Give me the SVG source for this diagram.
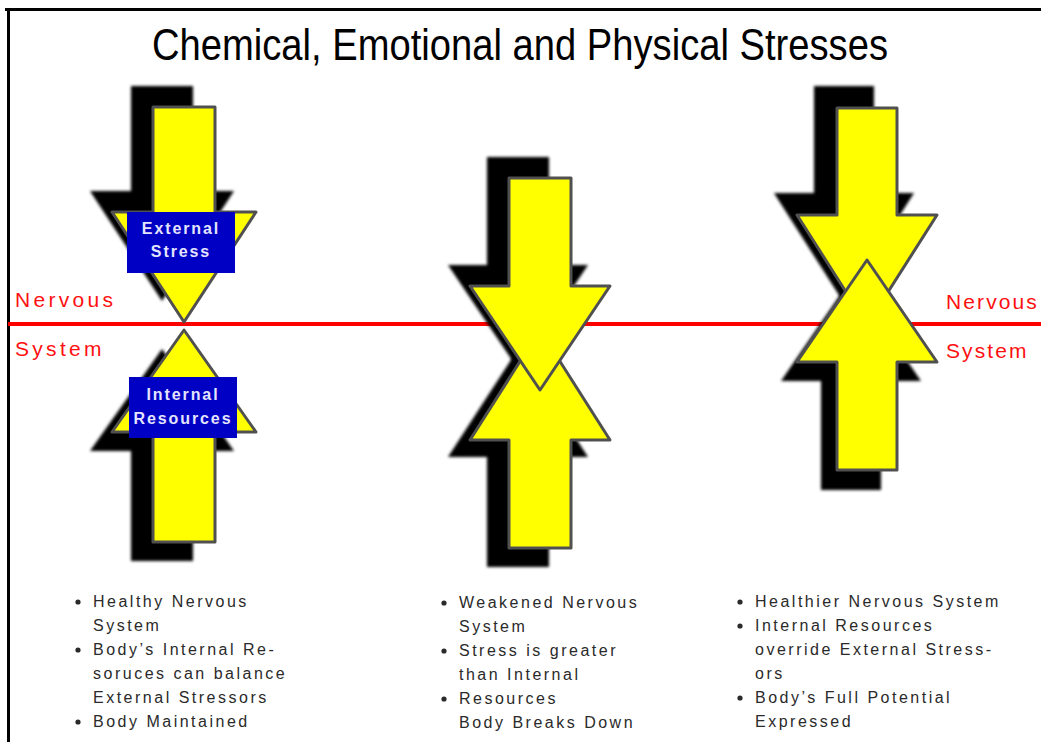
<svg xmlns="http://www.w3.org/2000/svg" width="1041" height="742" viewBox="0 0 1041 742">
<defs>
<filter id="blur" x="-20%" y="-20%" width="140%" height="140%"><feGaussianBlur stdDeviation="1.6"/></filter>
</defs>
<style>
.frame{stroke:#000;stroke-width:3;fill:none}
.shadow{fill:#000;filter:url(#blur)}
.arrow{fill:#ffff00;stroke:#505050;stroke-width:3;stroke-linejoin:round}
.box{fill:#0000c4}
.boxt{font-family:"Liberation Sans",Arial,sans-serif;font-weight:bold;font-size:16px;letter-spacing:1.9px;fill:#e4e4ff;text-anchor:middle}
.ns{font-family:"Liberation Sans",Arial,sans-serif;font-size:21px;letter-spacing:3.3px;fill:#ff1010}
.nsr{font-family:"Liberation Sans",Arial,sans-serif;font-size:21px;letter-spacing:2.1px;fill:#ff1010}
.bl{font-family:"Liberation Sans",Arial,sans-serif;font-size:16px;letter-spacing:2.5px;fill:#2a2a2a}
.dot{fill:#2a2a2a}
.title{font-family:"Liberation Sans Narrow","Liberation Sans",Arial,sans-serif;font-size:45px;fill:#000}
</style>
<rect width="1041" height="742" fill="#fff"/>
<g id="frame"><path class="frame" d="M5,9.5 H1041 M8.5,8 V742"/></g>
<g id="title"><text class="title" x="152" y="60" textLength="736" lengthAdjust="spacingAndGlyphs">Chemical, Emotional and Physical Stresses</text></g>
<g id="connectors"><line x1="8" y1="324" x2="1041" y2="324" stroke="#ff0000" stroke-width="4"/></g>
<g id="label-nervous-left"><text class="ns" x="15" y="307">Nervous</text><text class="ns" x="15" y="356">System</text></g>
<g id="label-nervous-right"><text class="nsr" x="946" y="309">Nervous</text><text class="nsr" x="946" y="358">System</text></g>

<g id="left-external-stress-arrow">
<path class="shadow" d="M131,86 L193,86 L193,191 L234,191 L162,301 L90,191 L131,191 Z"/>
</g>
<g id="left-internal-resources-arrow">
<path class="shadow" d="M162,349 L234,451 L193,451 L193,561 L131,561 L131,451 L90,451 Z"/>
<path class="arrow" d="M184,330 L256,432 L215,432 L215,542 L153,542 L153,432 L112,432 Z"/>
</g>
<g id="left-external-stress-arrow-top">
<path class="arrow" d="M153,107 L215,107 L215,212 L256,212 L184,322 L112,212 L153,212 Z"/>
</g>
<g id="left-external-stress-label">
<rect class="box" x="127" y="212" width="108" height="61"/>
<text class="boxt" x="181" y="234">External</text>
<text class="boxt" x="181" y="257">Stress</text>
</g>
<g id="left-internal-resources-label">
<rect class="box" x="129" y="377" width="108" height="61"/>
<text class="boxt" x="183" y="400">Internal</text>
<text class="boxt" x="183" y="424">Resources</text>
</g>

<g id="middle-arrows">
<path class="shadow" d="M487,157 L549,157 L549,265 L588,265 L518,369 L448,265 L487,265 Z"/>
<path class="shadow" d="M518,349 L588,457 L549,457 L549,567 L487,567 L487,457 L448,457 Z"/>
<path id="middle-internal-arrow" class="arrow" d="M540,330 L610,440 L571,440 L571,548 L509,548 L509,440 L470,440 Z"/>
<path id="middle-external-arrow" class="arrow" d="M509,178 L571,178 L571,286 L610,286 L540,390 L470,286 L509,286 Z"/>
</g>

<g id="right-arrows">
<path class="shadow" d="M814,86 L874,86 L874,193 L914,193 L844,303 L774,193 L814,193 Z"/>
<path class="shadow" d="M851,279 L921,381 L881,381 L881,490 L821,490 L821,381 L781,381 Z"/>
<path id="right-external-arrow" class="arrow" d="M837,108 L897,108 L897,215 L937,215 L867,325 L797,215 L837,215 Z"/>
<path id="right-internal-arrow" class="arrow" d="M867,260 L937,362 L897,362 L897,470 L837,470 L837,362 L797,362 Z"/>
</g>

<g id="left-notes">
<circle class="dot" cx="78" cy="602" r="2.6"/>
<circle class="dot" cx="78" cy="650" r="2.6"/>
<circle class="dot" cx="78" cy="722" r="2.6"/>
<text class="bl" x="93" y="607">Healthy Nervous</text>
<text class="bl" x="93" y="631">System</text>
<text class="bl" x="93" y="655">Body’s Internal Re-</text>
<text class="bl" x="93" y="679">soruces can balance</text>
<text class="bl" x="93" y="703">External Stressors</text>
<text class="bl" x="93" y="727">Body Maintained</text>
</g>
<g id="middle-notes">
<circle class="dot" cx="444" cy="603" r="2.6"/>
<circle class="dot" cx="444" cy="651" r="2.6"/>
<circle class="dot" cx="444" cy="699" r="2.6"/>
<text class="bl" x="459" y="608">Weakened Nervous</text>
<text class="bl" x="459" y="632">System</text>
<text class="bl" x="459" y="656">Stress is greater</text>
<text class="bl" x="459" y="680">than Internal</text>
<text class="bl" x="459" y="704">Resources</text>
<text class="bl" x="459" y="728">Body Breaks Down</text>
</g>
<g id="right-notes">
<circle class="dot" cx="740" cy="602" r="2.6"/>
<circle class="dot" cx="740" cy="626" r="2.6"/>
<circle class="dot" cx="740" cy="698" r="2.6"/>
<text class="bl" x="755" y="607">Healthier Nervous System</text>
<text class="bl" x="755" y="631">Internal Resources</text>
<text class="bl" x="755" y="655">override External Stress-</text>
<text class="bl" x="755" y="679">ors</text>
<text class="bl" x="755" y="703">Body’s Full Potential</text>
<text class="bl" x="755" y="727">Expressed</text>
</g>
</svg>
